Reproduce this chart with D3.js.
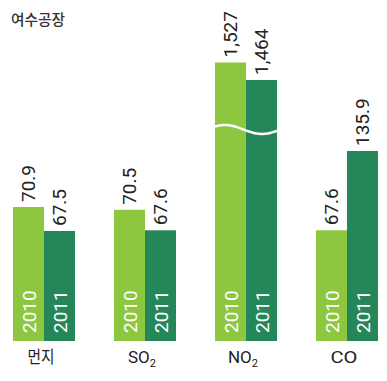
<!DOCTYPE html>
<html>
<head>
<meta charset="utf-8">
<script src="https://cdn.jsdelivr.net/npm/d3@7"></script>
<style>
  body { margin: 0; background: #fff; }
  svg { display: block; }
</style>
</head>
<body>
<svg id="chart"></svg>
<script>
// data
var categories = ['먼지', 'SO2', 'NO2', 'CO'];
var years = ['2010', '2011'];
var values2010 = [70.9, 70.5, 1527, 67.6];
var values2011 = [67.5, 67.6, 1464, 135.9];
var brokenCategory = 'NO2';

// the source drawing is not to scale, so the value axis is piecewise
var scaleKnots = [0, 67.5, 70.9, 135.9, 1464, 1527];
var knotHeights = [0, 110, 134, 190, 261, 278.5];

var width = 387, height = 381;
var baseline = 341;
var colors = {'2010': '#8dc63f', '2011': '#25865a'};

var svg = d3.select('#chart')
    .attr('width', width)
    .attr('height', height);

var data = categories.map(function (c, i) {
    return {cat: c, vals: [
        {year: '2010', value: values2010[i]},
        {year: '2011', value: values2011[i]}
    ]};
});

var x0 = d3.scaleBand()
    .domain(categories)
    .range([13, 378])
    .paddingInner(39 / 101)
    .paddingOuter(0);

var x1 = d3.scaleBand()
    .domain(years)
    .range([0, x0.bandwidth()])
    .padding(0);

var y = d3.scaleLinear()
    .domain(scaleKnots)
    .range(knotHeights.map(function (h) { return baseline - h; }));

var fmt = function (v) {
    return Number.isInteger(v) ? d3.format(',')(v) : d3.format('.1f')(v);
};

var narrow = '"Liberation Sans Narrow", "Arial Narrow", "Roboto", sans-serif';

// title
svg.append('text')
    .attr('x', 11)
    .attr('y', 25)
    .attr('font-family', '"Noto Sans CJK KR", sans-serif')
    .attr('font-size', 15)
    .attr('font-weight', 500)
    .attr('fill', '#333')
    .attr('textLength', 54)
    .attr('lengthAdjust', 'spacingAndGlyphs')
    .text('여수공장');

var groups = svg.selectAll('g.grp')
    .data(data)
    .enter().append('g')
    .attr('class', 'grp')
    .attr('transform', function (d) { return 'translate(' + x0(d.cat) + ',0)'; });

groups.selectAll('rect')
    .data(function (d) { return d.vals; })
    .enter().append('rect')
    .attr('x', function (d) { return x1(d.year); })
    .attr('y', function (d) { return y(d.value); })
    .attr('width', x1.bandwidth())
    .attr('height', function (d) { return baseline - y(d.value); })
    .attr('fill', function (d) { return colors[d.year]; });

// value labels above the bars
groups.selectAll('text.val')
    .data(function (d) { return d.vals; })
    .enter().append('text')
    .attr('class', 'val')
    .attr('transform', function (d) {
        var cx = x1(d.year) + x1.bandwidth() / 2 + 6;
        return 'translate(' + cx + ',' + (y(d.value) - 5) + ') rotate(-90)';
    })
    .attr('font-family', narrow)
    .attr('font-size', 19)
    .attr('fill', '#222')
    .text(function (d) { return fmt(d.value); });

// year labels inside the bars
groups.selectAll('text.yr')
    .data(function (d) { return d.vals; })
    .enter().append('text')
    .attr('class', 'yr')
    .attr('transform', function (d) {
        var cx = x1(d.year) + x1.bandwidth() / 2 + 7;
        return 'translate(' + cx + ',' + (baseline - 8) + ') rotate(-90)';
    })
    .attr('font-family', narrow)
    .attr('font-size', 19)
    .attr('fill', '#fff')
    .text(function (d) { return d.year; });

// axis break wave
var wave = d3.line().curve(d3.curveBasis);
var bx = x0(brokenCategory);
var pts = d3.range(0, x0.bandwidth() + 1, 2).map(function (t) {
    return [bx + t, 129.5 - 4.5 * Math.cos(2 * Math.PI * (t - 10) / 74)];
});
svg.append('path')
    .attr('d', wave(pts))
    .attr('fill', 'none')
    .attr('stroke', '#fff')
    .attr('stroke-width', 2.5);

// category labels
var catLabels = svg.selectAll('text.cat')
    .data(categories)
    .enter().append('text')
    .attr('class', 'cat')
    .attr('x', function (d) { return x0(d) + x0.bandwidth() / 2 - 3; })
    .attr('y', 363)
    .attr('text-anchor', 'middle')
    .attr('fill', '#222')
    .attr('font-size', 17)
    .attr('font-family', function (d) {
        return d === '먼지' ? '"Noto Sans CJK KR", sans-serif' : narrow;
    });

catLabels.each(function (d) {
    var t = d3.select(this);
    var m = d.match(/^([A-Z]+)(\d)$/);
    if (m) {
        t.append('tspan').text(m[1]);
        t.append('tspan').attr('font-size', 11).attr('dy', 4).text(m[2]);
    } else {
        t.attr('textLength', 27)
            .attr('lengthAdjust', 'spacingAndGlyphs')
            .text(d);
    }
});
</script>
</body>
</html>
